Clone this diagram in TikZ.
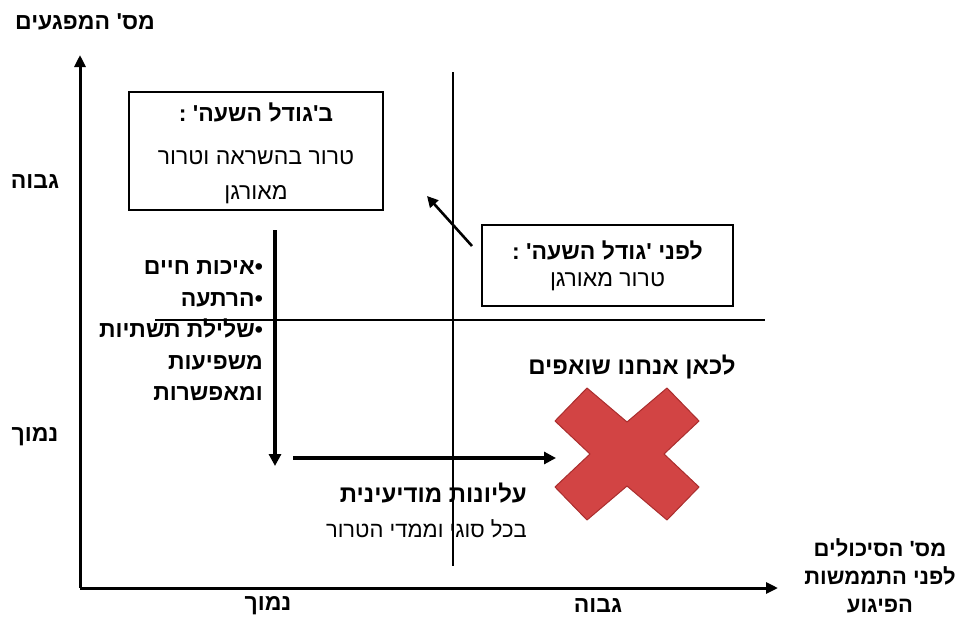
\documentclass[tikz,border=0pt]{standalone}
\usepackage{fontspec}
\usetikzlibrary{arrows.meta}
\TeXXeTstate=1
\newfontfamily\heb[Script=Hebrew]{Liberation Sans}
\definecolor{xred}{RGB}{210,68,68}
\definecolor{xredd}{RGB}{170,45,45}
\begin{document}
\begin{tikzpicture}[x=1pt,y=-1pt,
  txt/.style={font=\heb\fontsize{23}{27}\selectfont, inner sep=0pt, align=center},
  btxt/.style={font=\heb\bfseries\fontsize{23}{27}\selectfont, inner sep=0pt, align=center},
  axis/.style={line width=3pt, -{Triangle[length=12pt,width=11pt]}},
  thin/.style={line width=1.3pt},
  boxst/.style={draw, line width=2.4pt, inner sep=0pt},
  bigarrow/.style={line width=3.5pt, -{Triangle[length=12pt,width=12pt]}}]
\path[use as bounding box] (0,0) rectangle (955,618);

% axes
\coordinate (O) at (80,588);
\coordinate (Ytop) at (80,55);
\coordinate (Xend) at (778,588);
\draw[axis] (O) -- (Ytop);
\draw[axis] (O) -- (Xend);

% quadrant lines
\coordinate (vt) at (453,72);
\coordinate (vb) at (453,566);
\coordinate (hl) at (155,320);
\coordinate (hr) at (765,320);
\draw[thin] (vt) -- (vb);
\draw[thin] (hl) -- (hr);

% axis labels
\node[btxt] (ylab) at (85,22) {\beginR מס' המפגעים\endR};
\node[btxt] (yhigh) at (35,182) {\beginR גבוה\endR};
\node[btxt] (ylow) at (35,437) {\beginR נמוך\endR};
\node[btxt] (xlow) at (268,606) {\beginR נמוך\endR};
\node[btxt] (xhigh) at (598,606) {\beginR גבוה\endR};
\node[btxt, font=\heb\bfseries\fontsize{22}{28}\selectfont] (xlab) at (880,576)
  {\beginR מס' הסיכולים\endR\\\beginR לפני התממשות\endR\\\beginR הפיגוע\endR};

% boxes
\node[boxst, minimum width=254pt, minimum height=118pt] (box1) at (256,151) {};
\node[btxt] (b1t) at (256,112) {\beginR ב'גודל השעה' :\endR};
\node[txt, font=\heb\fontsize{23}{35}\selectfont] (b1b) at (256,177)
  {\beginR טרור בהשראה וטרור\endR\\\beginR מאורגן\endR};

\node[boxst, minimum width=251pt, minimum height=81pt] (box2) at (607.5,265.5) {};
\node[btxt] (b2t) at (607.5,250) {\beginR לפני 'גודל השעה' :\endR};
\node[txt] (b2b) at (607.5,282) {\beginR טרור מאורגן\endR};

% diagonal arrow
\coordinate (dtail) at (472,246);
\coordinate (dtip) at (427,196);
\draw[line width=2.6pt, -{Triangle[length=11pt,width=11pt]}] (dtail) -- (dtip);

% bullets
\node[btxt, align=right, anchor=east, font=\heb\bfseries\fontsize{23}{31.5}\selectfont] (bul) at (263,331)
  {\beginR •איכות חיים\endR\\\beginR •הרתעה\endR\\\beginR •שלילת תשתיות\endR\\\beginR משפיעות\endR\\\beginR ומאפשרות\endR};

% big arrows
\coordinate (vtop) at (275,230);
\coordinate (vbot) at (275,466);
\draw[bigarrow] (vtop) -- (vbot);
\coordinate (hs) at (293,458);
\coordinate (he) at (556,458);
\draw[bigarrow] (hs) -- (he);

% intelligence text
\node[btxt, anchor=east, font=\heb\bfseries\fontsize{24}{28}\selectfont] (intel1) at (527,493) {\beginR עליונות מודיעינית\endR};
\node[txt, anchor=east, font=\heb\fontsize{22}{26}\selectfont] (intel2) at (527,529) {\beginR בכל סוגי וממדי הטרור\endR};

% goal
\node[btxt, font=\heb\bfseries\fontsize{24}{28}\selectfont] (goal) at (632,367) {\beginR לכאן אנחנו שואפים\endR};

% red X
\begin{scope}[shift={(627,454)}]
\fill[xred, draw=xredd, line width=1pt, line join=round]
  (-72,-33) -- (-40,-66) -- (0,-32) -- (40,-66) -- (72,-33) -- (37,0)
  -- (72,33) -- (40,66) -- (0,32) -- (-40,66) -- (-72,33) -- (-37,0) -- cycle;
\end{scope}
\node[inner sep=0pt] (xmark) at (627,454) {};
\end{tikzpicture}
\end{document}
